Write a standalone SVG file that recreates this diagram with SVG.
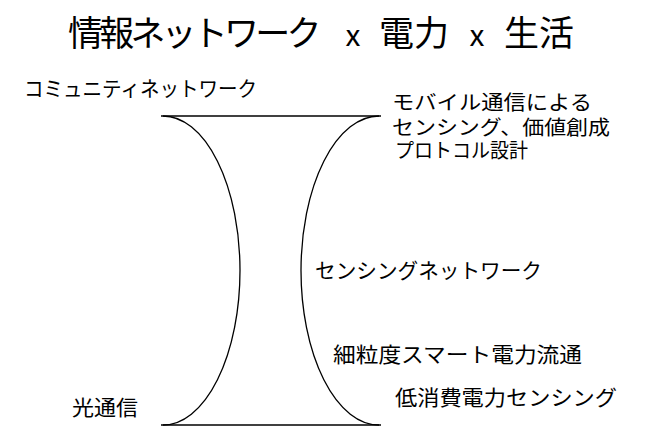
<svg xmlns="http://www.w3.org/2000/svg" width="650" height="446" viewBox="0 0 650 446">
<style>
text{font-family:"Noto Sans CJK JP","Noto Sans",sans-serif;fill:#000}
.t{font-size:35px}
.x{font-size:30px;text-anchor:middle}
.l{font-size:21px}
.s{font-size:20px}
.c{fill:none;stroke:#000;stroke-width:1.3}
</style>
<rect width="650" height="446" fill="#fff"/>
<g id="title">
<text class="t" x="68" y="46" letter-spacing="-3.8">情報ネットワーク</text>
<text class="x" x="353" y="46">x</text>
<text class="t" x="379" y="46">電力</text>
<text class="x" x="477" y="46">x</text>
<text class="t" x="504" y="46">生活</text>
</g>
<g id="connectors">
<line class="c" x1="161" y1="116" x2="381" y2="116"/>
<line class="c" x1="161" y1="425" x2="381" y2="425"/>
<path class="c" d="M163,116 A77,154.5 0 0 1 163,425"/>
<path class="c" d="M379,116 A78,154.5 0 0 0 379,425"/>
</g>
<g id="n1"><text class="l" x="24" y="96" textLength="233" lengthAdjust="spacingAndGlyphs">コミュニティネットワーク</text></g>
<g id="n2"><text class="s" x="392" y="110" textLength="200" lengthAdjust="spacingAndGlyphs">モバイル通信による</text></g>
<g id="n3"><text class="s" x="392" y="135" textLength="218" lengthAdjust="spacingAndGlyphs">センシング、価値創成</text></g>
<g id="n4"><text class="s" x="395" y="158" textLength="133" lengthAdjust="spacingAndGlyphs">プロトコル設計</text></g>
<g id="n5"><text class="l" x="315" y="278" textLength="227" lengthAdjust="spacingAndGlyphs">センシングネットワーク</text></g>
<g id="n6"><text class="l" x="333" y="362" textLength="249" lengthAdjust="spacingAndGlyphs">細粒度スマート電力流通</text></g>
<g id="n7"><text class="l" x="395" y="405" textLength="222" lengthAdjust="spacingAndGlyphs">低消費電力センシング</text></g>
<g id="n8"><text class="l" x="72" y="415" textLength="66" lengthAdjust="spacingAndGlyphs">光通信</text></g>
</svg>
